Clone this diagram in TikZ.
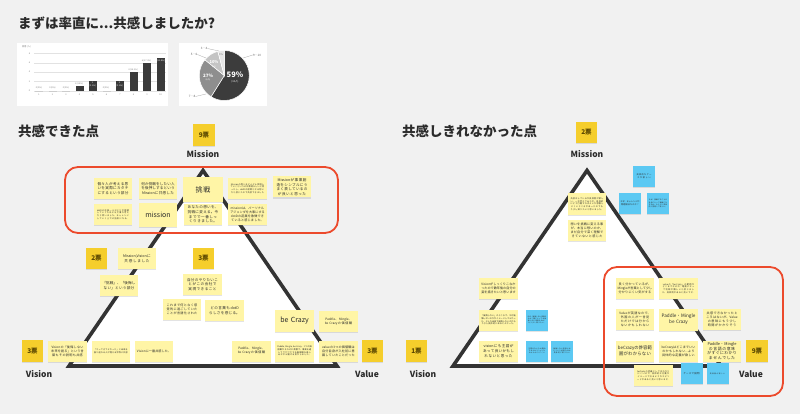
\documentclass[tikz,border=0pt]{standalone}
\usepackage{fontspec}
\setmainfont{Noto Sans CJK JP}
\XeTeXlinebreaklocale "ja"
\XeTeXlinebreakskip=0pt plus 1pt
\usetikzlibrary{shadows}
\definecolor{bg}{HTML}{F1F1F1}
\definecolor{ink}{HTML}{2B2B2B}
\definecolor{noteY}{HTML}{FFF5A6}
\definecolor{voteY}{HTML}{F5CE2C}
\definecolor{voteT}{HTML}{5A4700}
\definecolor{blueN}{HTML}{5CC9F3}
\definecolor{triC}{HTML}{333333}
\definecolor{redC}{HTML}{EC4A2C}
\definecolor{barC}{HTML}{3A3A3A}
\definecolor{gridC}{HTML}{E2E2E2}
\definecolor{pieA}{HTML}{3C3C3C}
\definecolor{pieB}{HTML}{8E8E8E}
\definecolor{pieC}{HTML}{C4C4C4}
\definecolor{pieD}{HTML}{E6E6E6}
\begin{document}
\begin{tikzpicture}[x=1pt,y=-1pt,
  shad/.style={drop shadow={shadow xshift=0pt,shadow yshift=-1.2pt,opacity=0.22}},
  note/.style={fill=noteY, minimum width=38.5pt, minimum height=21pt, text width=35pt,
    align=center, inner sep=1pt, text=ink, font=\fontsize{3.6}{4.6}\selectfont, shad},
  small/.style={note, font=\fontsize{3.1}{4}\selectfont},
  tiny/.style={note, font=\fontsize{2.1}{2.7}\selectfont},
  big/.style={note, minimum width=40pt, minimum height=25pt, font=\fontsize{7}{8}\selectfont},
  bluenote/.style={fill=blueN, minimum width=22pt, minimum height=21pt, text width=19pt,
    align=center, inner sep=1pt, text=ink, font=\fontsize{2.1}{2.7}\selectfont, shad},
  vote/.style={fill=voteY, minimum size=21.5pt, inner sep=0pt, text=voteT,
    font=\bfseries\fontsize{6.5}{7}\selectfont, shad},
  axislabel/.style={text=ink, font=\bfseries\fontsize{8.5}{9}\selectfont},
  heading/.style={anchor=west, text=ink, font=\bfseries\fontsize{13.5}{15}\selectfont, inner sep=0pt},
  tri/.style={draw=triC, line width=3.6pt, fill=white, line join=miter},
  redbox/.style={draw=redC, line width=1.8pt, rounded corners=13pt},
  chartxt/.style={font=\fontsize{2.2}{2.6}\selectfont, text=gray, inner sep=0pt},
  pietxt/.style={font=\fontsize{3}{3.4}\selectfont, text=gray!80!black, inner sep=0pt},
  leader/.style={draw=gray!70, line width=0.3pt}
]
\useasboundingbox (0,0) rectangle (800,414);
\fill[bg] (0,0) rectangle (800,414);

% ---------- title ----------
\node[heading] (title) at (18,23) {まずは率直に...共感しましたか?};

% ---------- bar chart ----------
\fill[white] (17,43) rectangle (168,106);
\node[chartxt, anchor=west] (ctitle) at (22,46.5) {回答 (人)};
\foreach \v in {0,2,4,6,8}{
  \draw[gridC, line width=0.3pt] (34,{90.7-4.67*\v}) -- (166,{90.7-4.67*\v});
  \node[chartxt] (yl\v) at (29.5,{90.7-4.67*\v}) {\v};
}
\foreach \i/\v in {1/0,2/0,3/0,4/1,5/2,6/0,7/2,8/4,9/6,10/7}{
  \fill[barC] ({39+13.5*(\i-1)-4},90.7) rectangle ++(8,{-4.67*\v});
  \node[chartxt] (xl\i) at ({39+13.5*(\i-1)},95) {\i};
}
\node[chartxt] (bl1) at (39,88.3) {0 (0\%)};
\node[chartxt] (bl2) at (52.5,88.3) {0 (0\%)};
\node[chartxt] (bl3) at (66,88.3) {0 (0\%)};
\node[chartxt] (bl4) at (79,83.5) {1 (4.5\%)};
\node[chartxt, text=white, align=center] (bl5) at (92.5,84.5) {2\\(9.1\%)};
\node[chartxt] (bl6) at (106,88.3) {0 (0\%)};
\node[chartxt, text=white, align=center] (bl7) at (119.5,84.5) {2\\(9.1\%)};
\node[chartxt] (bl8) at (133,70) {4 (18.2\%)};
\node[chartxt] (bl9) at (146.5,60.5) {6 (27.3\%)};
\node[chartxt, text=white] (bl10) at (160,60.5) {7 (31.8\%)};

% ---------- pie chart ----------
\fill[white] (179,43) rectangle (267,106);
\begin{scope}[shift={(224.3,75.5)}]
  \filldraw[fill=pieA, draw=white, line width=0.5pt] (0,0) -- (-90:25) arc[start angle=-90, end angle=122, radius=25] -- cycle;
  \filldraw[fill=pieB, draw=white, line width=0.5pt] (0,0) -- (122:25) arc[start angle=122, end angle=219, radius=25] -- cycle;
  \filldraw[fill=pieC, draw=white, line width=0.5pt] (0,0) -- (219:25) arc[start angle=219, end angle=255, radius=25] -- cycle;
  \filldraw[fill=pieD, draw=white, line width=0.5pt] (0,0) -- (255:25) arc[start angle=255, end angle=270, radius=25] -- cycle;
\end{scope}
\node[text=white, font=\bfseries\fontsize{7.5}{8}\selectfont, inner sep=0pt] (p59) at (235,75) {59\%};
\node[text=white, font=\fontsize{2.6}{3}\selectfont, inner sep=0pt] (p59n) at (235,81.5) {(13人)};
\node[text=white, font=\bfseries\fontsize{4.5}{5}\selectfont, inner sep=0pt] (p27) at (208,75.5) {27\%};
\node[text=white, font=\fontsize{2.2}{2.6}\selectfont, inner sep=0pt] (p27n) at (208,80) {(6人)};
\node[text=white, font=\bfseries\fontsize{4}{4.5}\selectfont, inner sep=0pt] (p10) at (214,62.5) {10\%};
\node[text=white, font=\fontsize{2}{2.4}\selectfont, inner sep=0pt] (p10n) at (214,66.5) {(2人)};
\node[text=gray, font=\fontsize{2.5}{3}\selectfont, inner sep=0pt] (p05) at (221,55) {5\%};
\node[pietxt] (lab910) at (257,55) {9・10};
\node[pietxt] (lab34) at (204,48.5) {3・4};
\node[pietxt] (lab56) at (194,54.5) {5・6};
\node[pietxt] (lab78) at (192,96.5) {7・8};
\coordinate (e910) at (243,58);
\coordinate (e34) at (219,51);
\coordinate (e56) at (206,58);
\coordinate (e78) at (206,94);
\draw[leader] (lab910.west) -- (e910);
\draw[leader] (lab34.east) -- (e34);
\draw[leader] (lab56.east) -- (e56);
\draw[leader] (lab78.east) -- (e78);

% ---------- headings ----------
\node[heading] (hl) at (18,131) {共感できた点};
\node[heading] (hr) at (402,131) {共感しきれなかった点};

% ---------- triangles ----------
\coordinate (LA) at (203,170.5);
\coordinate (LB) at (69,366);
\coordinate (LC) at (337,366);
\coordinate (RA) at (587,170.5);
\coordinate (RB) at (453,366);
\coordinate (RC) at (721,366);
\draw[tri] (LA) -- (LB) -- (LC) -- cycle;
\draw[tri] (RA) -- (RB) -- (RC) -- cycle;

% ---------- red boxes ----------
\draw[redbox] (65,167) rectangle (338,233);
\draw[redbox] (604,267) rectangle (783,396);

% ---------- axis labels ----------
\node[vote] (lv9) at (204,135) {9票};
\node[axislabel] (lmis) at (203,154) {Mission};
\node[axislabel] (lvis) at (39,374.5) {Vision};
\node[axislabel] (lval) at (367,374.5) {Value};
\node[vote] (rv2) at (586.5,132.5) {2票};
\node[axislabel] (rmis) at (587,154) {Mission};
\node[axislabel] (rvis) at (423,374.5) {Vision};
\node[axislabel] (rval) at (751,374.5) {Value};

% ---------- left notes ----------
\node[note] (l1) at (113,188.5) {個々人が考える思いを実際にカタチにするという部分};
\node[note] (l2) at (158,188.5) {何か挑戦をしたい人を後押しするというMissionに共感した};
\node[big] (l3) at (203,189.5) {挑戦};
\node[tiny] (l4) at (247.5,188.5) {Missionの想いをどんどん体現していくというのは素晴らしいと思ったし、dotDの根幹となる想いだと感じたので共感できました};
\node[note] (l5) at (292,187) {Missionが事業創造をシンプルにうまく表しているのが良いと思った};
\node[tiny] (l6) at (113,214.5) {dotDの社員一人ひとりが挑戦していくためにも大事な考えだと思いました。チャレンジしていく上での指針になる。};
\node[big, minimum width=38.5pt, minimum height=24pt] (l7) at (158,215) {mission};
\node[note] (l8) at (203,214.5) {あなたの想いを、挑戦に変える。今までで一番しっくりきました。};
\node[small] (l9) at (247.5,214.5) {missionは、パーソナルアジェンダを大事にするdotDの起業を象徴できていると感じました。};

\node[vote] (lv2) at (96.5,258.5) {2票};
\node[note] (l10) at (137,258.5) {Mission,Visionに共感しました};
\node[note] (l11) at (119,285.5) {「挑戦」、「後悔しない」という部分};
\node[vote] (lv3a) at (203.5,258.5) {3票};
\node[note] (l12) at (202.5,284.5) {自分のやりたいことがこの会社で実現できること};
\node[small] (l13) at (182,309.5) {これまで何となく感覚的に過ごしていたことが言語化された};
\node[note] (l14) at (224.5,310.5) {どの言葉もdotDらしさを感じる。};

\node[vote] (lv3b) at (32.5,351) {3票};
\node[small] (l15) at (67.5,351) {Visionの「後悔しない未来を創る」という言葉もその説明も共感};
\node[tiny] (l16) at (111,351) {「やってきてよかった」と未来を振り返れる人が増える世界に共感};
\node[small] (l17) at (154,351) {Visionに一番共感した。};

\node[big, minimum width=39pt, minimum height=22pt] (l18) at (294.5,321) {be Crazy};
\node[small] (l19) at (338.5,321.5) {Paddle、Mingle、be Crazyの価値観};
\node[small] (l20) at (251.5,351) {Paddle、Mingle、be Crazyの価値観};
\node[tiny] (l21) at (294.5,351) {Paddle, Mingle, be Crazy。3つの価値観がそれぞれ素敵で、事業を通してワクワクする価値観を楽しみながら働ける気がしました。};
\node[small] (l22) at (338.5,351) {valueの3つの価値観は自分自身が入社前に意識していたことだった};
\node[vote] (lv3c) at (372.5,351) {3票};

% ---------- right notes ----------
\node[tiny] (r1) at (587,204) {共感はしているが具体例が欲しい。一旦考えてみたが、具体的にどう行動すればよいか想像しにくいところがあったのでもう少し知りたいと思いました。};
\node[small] (r2) at (587,230) {想いを挑戦に変える事が、本当に想いのか、まだ自分で深く理解できていないと感じた};
\node[bluenote] (b1) at (644,176.5) {具体的なケースが欲しい};
\node[bluenote] (b2) at (630,203.5) {なぜ、チャレンジが問題解決なのか？};
\node[bluenote, font=\fontsize{1.7}{2.2}\selectfont] (b3) at (658,203.5) {なぜ、挑戦することが社会にとって価値になるのか。もう少し具体的に説明して欲しい。};

\node[small] (r3) at (498.5,288.5) {Visionがしっくりこなかったので数年後の自分の姿を描きたいと思います};
\node[tiny] (r4) at (498.5,320) {「後悔しない」のところで、なぜ後悔しないのかがイメージしづらかった。どんな未来で後悔しないのかもう少し具体的にあるとよかった。};
\node[bluenote, font=\fontsize{1.7}{2.2}\selectfont] (b4) at (537,320) {なぜ、後悔しない未来なのか？誰にとっての後悔しない未来なのか、もう少し知りたい。};
\node[note] (r5) at (498.5,351) {visionにも主語があって良いかもしれないと思った};
\node[bluenote, font=\fontsize{1.7}{2.2}\selectfont] (b5) at (537,351) {主語がないため誰のためのビジョンなのかわかりにくい};
\node[bluenote, font=\fontsize{1.7}{2.2}\selectfont] (b6) at (562,351) {後悔しない未来とはどういう状態なのか具体的に知りたい};
\node[vote] (rv1) at (416.5,351) {1票};

\node[small] (r6) at (635,288.5) {良く分かっているが、Mingleが言葉として少し分かりにくい気がする};
\node[tiny] (r7) at (678.5,288.5) {valueの「be Crazy」の範囲がどこまでなのか、場面によって判断が難しいと感じました。具体例があると良いです。};
\node[small] (r8) at (635,319) {Valueが英語なので、外国の人が一言見ただけでは分からないかもしれない};
\node[note, font=\fontsize{4.6}{5.8}\selectfont, minimum height=22pt] (r9) at (678.5,319.5) {Paddle・Mingle\\be Crazy};
\node[small] (r10) at (722,319) {共感できなかったところはないが、Valueの意味にもう少し時間がかかりそう};
\node[note, font=\fontsize{4.4}{5.6}\selectfont] (r11) at (635,351) {beCrazyの許容範囲がわからない};
\node[small] (r12) at (678.5,351) {beCrazyはどこまでいいのかもしれない...より具体的な定義が欲しい};
\node[note, font=\fontsize{3.9}{4.9}\selectfont] (r13) at (722,351) {Paddle・Mingleの言語の意味がすぐにわかりませんでした};
\node[vote] (rv9) at (757,351) {9票};
\node[tiny] (r14) at (653.5,375.5) {beCrazyの定義としてはわかりにくいので、具体的な行動がイメージできるようなエピソードがあると良いと思います。};
\node[bluenote, font=\fontsize{2.4}{3}\selectfont] (b7) at (691.5,373.5) {ケースで説明};
\node[bluenote, font=\fontsize{1.7}{2.2}\selectfont] (b8) at (717.5,373.5) {具体例が欲しい};
\end{tikzpicture}
\end{document}
